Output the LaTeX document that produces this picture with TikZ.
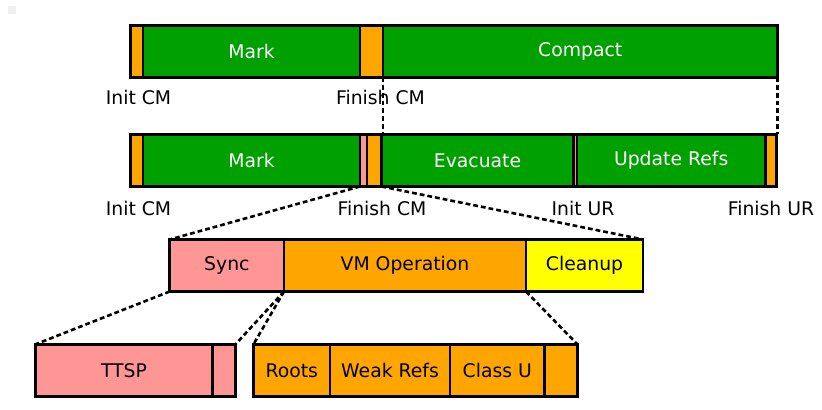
\documentclass[tikz,border=0pt]{standalone}
\usepackage{fontspec}
\setmainfont{DejaVu Sans}
\usepackage{tikz}
\usetikzlibrary{positioning}
\definecolor{gcgreen}{RGB}{0,160,0}
\definecolor{gcorange}{RGB}{255,165,0}
\definecolor{gcpink}{RGB}{255,150,150}
\definecolor{gcyellow}{RGB}{255,255,0}

\begin{document}
\begin{tikzpicture}[x=0.5pt,y=-0.5pt]
\useasboundingbox (0,0) rectangle (822,410);
\fill[gray!12] (8,6) rectangle (16,14);

\begin{scope}[node distance=0pt,seg/.style={rectangle,draw,line width=1.45pt,minimum height=26pt,inner sep=0,outer sep=0,font=\fontsize{9.4}{11}\selectfont},segwd/.style={minimum width=#1*0.5pt},gc/.style={seg,fill=gcgreen,text=white},oc/.style={seg,fill=gcorange},pc/.style={seg,fill=gcpink},yc/.style={seg,fill=gcyellow},lbl/.style={font=\fontsize{9.4}{11}\selectfont,inner sep=0},zoom/.style={line width=1.3pt,dash pattern=on 2.4pt off 1.5pt}]
% Nodes
% full cycle, first line
\node[oc,segwd=12.5,anchor=west] at (130.5,51.3) (icm1) {};
\node[gc,segwd=217,right=of icm1] (mark1) {Mark};
\node[oc,segwd=23,right=of mark1] (fcm1) {};
\node[gc,segwd=394.5,right=of fcm1] (compact) {Compact};

% full cycle, second line
\node[oc,segwd=12.5,anchor=west] at (130.5,160.5) (icm2) {};
\node[gc,segwd=217,right=of icm2] (mark2) {Mark};
\node[pc,segwd=7,right=of mark2] (sync2) {};
\node[oc,segwd=14.5,right=of sync2] (vmop2) {};
\node[gc,segwd=192,right=of vmop2] (evac) {Evacuate};
\node[oc,segwd=3.5,right=of evac] (iur) {};
\node[gc,segwd=188.3,right=of iur] (uprefs) {Update Refs};
\node[oc,segwd=11.4,right=of uprefs] (fur) {};

% pause
\node[pc,segwd=114.3,anchor=west] at (169.7,265.5) (sync) {Sync};
\node[oc,segwd=242,right=of sync] (vmop) {VM Operation};
\node[yc,segwd=117,right=of vmop] (cleanup) {Cleanup};

% sync and vm operation
\node[pc,segwd=177,anchor=west] at (35.5,370.3) (ttsp) {TTSP};
\node[pc,segwd=23,right=of ttsp] (ttspx) {};
\node[oc,segwd=76.5,anchor=west] at (253.5,370.3) (roots) {Roots};
\node[oc,segwd=120,right=of roots] (weakrefs) {Weak Refs};
\node[oc,segwd=94.5,right=of weakrefs] (classu) {Class U};
\node[oc,segwd=32.8,right=of classu] (classx) {};

% labels
\node[lbl] at (138.5,97) (licm1) {Init CM};
\node[lbl] at (380.5,97) (lfcm1) {Finish CM};
\node[lbl] at (138.5,208) (licm2) {Init CM};
\node[lbl] at (382,208) (lfcm2) {Finish CM};
\node[lbl] at (583,208) (liur) {Init UR};
\node[lbl] at (771,208) (lfur) {Finish UR};

%zoom lines
\path[zoom] (fcm1.south east) edge (fcm1.south east |- evac.north);
\path[zoom] (compact.south east) edge (compact.south east |- fur.north);
\path[zoom] (sync2.south west) edge (sync.north west);
\path[zoom] (vmop2.south east) edge (cleanup.north east);
\path[zoom] (sync.south west) edge (ttsp.north west);
\path[zoom] (sync.south east) edge (ttspx.north east);
\path[zoom] (sync.south east) edge (roots.north west);
\path[zoom] (vmop.south east) edge (classx.north east);

\end{scope}

\end{tikzpicture}
\end{document}
